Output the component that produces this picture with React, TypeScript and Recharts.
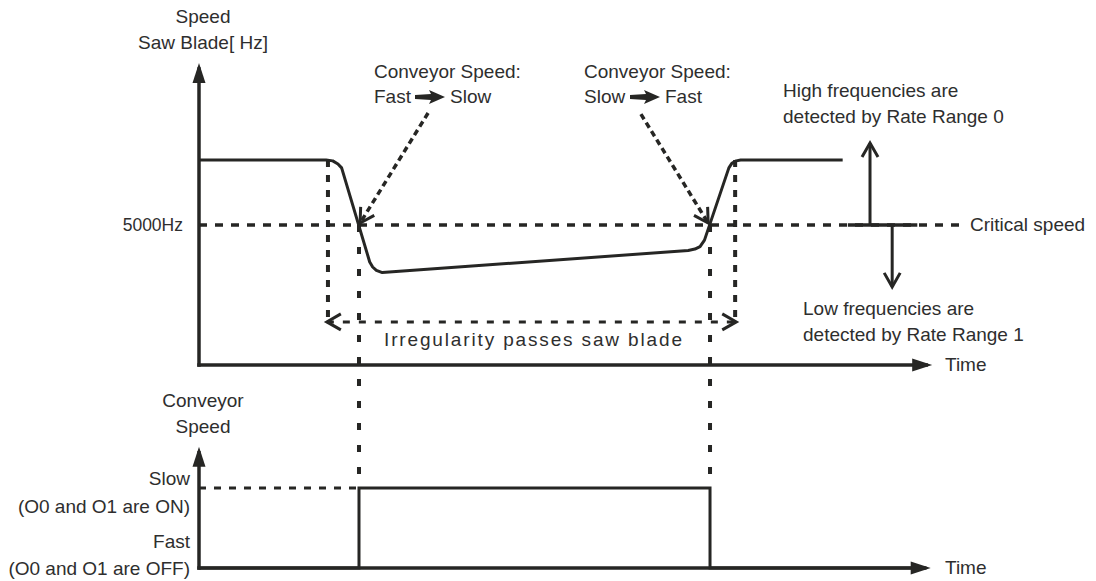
import React from 'react';
import { ComposedChart, Line, XAxis, YAxis } from 'recharts';

const WIDTH = 1096;
const HEIGHT = 581;

// ---- data (time runs 0..100 between the vertical axes and the arrow tips) ----
const sawTime = [0, 17.2, 18.1, 18.8, 19.3, 23.1, 23.5, 24.0, 24.8, 66.2, 67.1, 67.8, 68.4, 71.7, 72.1, 72.7, 73.3, 87.1];
const sawSpeed = [7320, 7320, 7290, 7180, 7040, 3680, 3500, 3380, 3300, 4090, 4140, 4230, 4460, 7040, 7200, 7290, 7320, 7320];

const CRITICAL_HZ = 5000;
const criticalEndTime = 103.9;
const thresholdBarTime = [87.8, 97.2];
const highArrow = { t: 90.8, hz: 7930 };
const lowArrow = { t: 93.8, hz: 2790 };

// conveyor switches Fast -> Slow and back when the saw crosses 5000 Hz
const switchTimes = [21.65, 69.15];
const conveyorTime = [0, 21.65, 69.15, 98.2];
const conveyorLevel = [0, 1, 0, 0]; // 0 = Fast, 1 = Slow

// irregularity passing the saw blade
const irregularTimes = [17.45, 72.55];
const irregularTop = 7320;
const irregularBottom = 1430;
const irregularArrowHz = 1540;
const irregularArrowTimes = [17.3, 72.7];

// callout arrows [fromT, fromHz, toT, toHz]
const callouts = [
  [31.0, 9000, 21.8, 5070],
  [59.8, 8960, 68.9, 5070],
];

const sawAxisTop = 10570;
const timeAxisEnd = 98.4;
const convAxisTop = 1.44;
const convTimeAxisEnd = 98.2;

// ---- layout: where the scales sit on the page ----
const X0_PX = 199;
const PX_PER_T = 7.39;
const SAW_ZERO_PX = 365;
const PX_PER_HZ = 0.028;
const CONV_ZERO_PX = 568;
const PX_PER_LEVEL = 80;

const xDomain = [-X0_PX / PX_PER_T, (WIDTH - X0_PX) / PX_PER_T];
const sawDomain = [-(HEIGHT - SAW_ZERO_PX) / PX_PER_HZ, SAW_ZERO_PX / PX_PER_HZ];
const convDomain = [-(HEIGHT - CONV_ZERO_PX) / PX_PER_LEVEL, CONV_ZERO_PX / PX_PER_LEVEL];

// the switch lines run from the saw panel down into the conveyor panel
const hzToLevel = (hz: number) => (CONV_ZERO_PX - SAW_ZERO_PX + hz * PX_PER_HZ) / PX_PER_LEVEL;

const INK = '#262624';
const TEXT = '#2e2e2e';
const FONT = '"Liberation Sans", Arial, Helvetica, sans-serif';

const zip = (ts: number[], vs: number[]) => ts.map((t, i) => ({ t, v: vs[i] }));
const seg = (t0: number, v0: number, t1: number, v1: number) => [
  { t: t0, v: v0 },
  { t: t1, v: v1 },
];

const sawData = zip(sawTime, sawSpeed);
const conveyorData = zip(conveyorTime, conveyorLevel);

const common = {
  dataKey: 'v',
  dot: false,
  activeDot: false,
  isAnimationActive: false,
  legendType: 'none' as const,
  stroke: INK,
};

const Arrow = ({ x, y }: { x: number; y: number }) => (
  <polygon
    points={`${x},${y - 2} ${x + 16},${y - 3} ${x + 14},${y - 7} ${x + 30},${y} ${x + 14},${y + 7} ${x + 16},${y + 3} ${x},${y + 2}`}
    fill={INK}
  />
);

const T = ({ x, y, a = 'start', size = 19, len, children }: {
  x: number; y: number; a?: string; size?: number; len?: number; children: React.ReactNode;
}) => (
  <text x={x} y={y} textAnchor={a as any} fontFamily={FONT} fontSize={size} fill={TEXT}
    textLength={len} lengthAdjust={len ? 'spacing' : undefined}>
    {children}
  </text>
);

const Annotations = () => (
  <g>
    <T x={203} y={23} a="middle">Speed</T>
    <T x={203} y={49} a="middle">Saw Blade[ Hz]</T>

    <T x={374} y={78}>Conveyor Speed:</T>
    <T x={374} y={103}>Fast</T>
    <Arrow x={415} y={97} />
    <T x={450} y={103}>Slow</T>

    <T x={584} y={78}>Conveyor Speed:</T>
    <T x={584} y={103}>Slow</T>
    <Arrow x={630} y={97} />
    <T x={665} y={103}>Fast</T>

    <T x={783} y={97}>High frequencies are</T>
    <T x={783} y={123}>detected by Rate Range 0</T>
    <T x={183} y={231} a="end" size={17.5}>5000Hz</T>
    <T x={970} y={231}>Critical speed</T>
    <T x={803} y={315}>Low frequencies are</T>
    <T x={803} y={341}>detected by Rate Range 1</T>
    <T x={384} y={346} len={298}>Irregularity passes saw blade</T>
    <T x={945} y={371}>Time</T>

    <T x={203} y={407} a="middle">Conveyor</T>
    <T x={203} y={433} a="middle">Speed</T>
    <T x={190} y={485} a="end">Slow</T>
    <T x={190} y={513} a="end">(O0 and O1 are ON)</T>
    <T x={190} y={548} a="end">Fast</T>
    <T x={190} y={575} a="end">(O0 and O1 are OFF)</T>
    <T x={945} y={574}>Time</T>
  </g>
);

export default function App() {
  return (
    <div style={{ position: 'absolute', left: 0, top: 0, width: WIDTH, height: HEIGHT, background: '#fff' }}>
      <ComposedChart width={WIDTH} height={HEIGHT} margin={{ top: 0, right: 0, bottom: 0, left: 0 }}>
        <defs>
          <marker id="head-filled" viewBox="-16 -8 24 16" refX={0} refY={0} markerWidth={24} markerHeight={16}
            markerUnits="userSpaceOnUse" orient="auto" overflow="visible">
            <path d="M6,0 L-14,-6.5 L-14,6.5 Z" fill={INK} />
          </marker>
          <marker id="head-open" viewBox="-16 -10 22 20" refX={0} refY={0} markerWidth={22} markerHeight={20}
            markerUnits="userSpaceOnUse" orient="auto-start-reverse" overflow="visible">
            <path d="M-14,-8 L0,0 L-14,8" fill="none" stroke={INK} strokeWidth={3} />
          </marker>
        </defs>

        <XAxis dataKey="t" type="number" domain={xDomain} hide />
        <YAxis yAxisId="saw" type="number" domain={sawDomain} hide />
        <YAxis yAxisId="conv" type="number" domain={convDomain} hide />

        {/* dashed guides */}
        <Line {...common} yAxisId="saw" data={seg(0, CRITICAL_HZ, criticalEndTime, CRITICAL_HZ)}
          strokeWidth={3.5} strokeDasharray="8 8" />
        {irregularTimes.map((t) => (
          <Line key={`irr-${t}`} {...common} yAxisId="saw" data={seg(t, irregularTop, t, irregularBottom)}
            strokeWidth={4} strokeDasharray="7 8" />
        ))}
        <Line {...common} yAxisId="saw"
          data={seg(irregularArrowTimes[0], irregularArrowHz, irregularArrowTimes[1], irregularArrowHz)}
          strokeWidth={3} strokeDasharray="7 9" markerStart="url(#head-open)" markerEnd="url(#head-open)" />
        {switchTimes.map((t) => (
          <Line key={`sw-${t}`} {...common} yAxisId="conv" data={seg(t, hzToLevel(CRITICAL_HZ), t, 1)}
            strokeWidth={4} strokeDasharray="7 15" />
        ))}
        <Line {...common} yAxisId="conv" data={seg(0, 1, switchTimes[0], 1)} strokeWidth={3} strokeDasharray="7 8" />
        {callouts.map((c, i) => (
          <Line key={`call-${i}`} {...common} yAxisId="saw" data={seg(c[0], c[1], c[2], c[3])}
            strokeWidth={3.5} strokeDasharray="6 4" markerEnd="url(#head-open)" />
        ))}

        {/* saw blade speed */}
        <Line {...common} yAxisId="saw" data={sawData} type="linear" strokeWidth={3} strokeLinejoin="round" />

        {/* threshold marker */}
        <Line {...common} yAxisId="saw"
          data={seg(thresholdBarTime[0], CRITICAL_HZ, thresholdBarTime[1], CRITICAL_HZ)} strokeWidth={3.5} />
        <Line {...common} yAxisId="saw" data={seg(highArrow.t, CRITICAL_HZ, highArrow.t, highArrow.hz)}
          strokeWidth={3} markerEnd="url(#head-open)" />
        <Line {...common} yAxisId="saw" data={seg(lowArrow.t, CRITICAL_HZ, lowArrow.t, lowArrow.hz)}
          strokeWidth={3} markerEnd="url(#head-open)" />

        {/* conveyor speed */}
        <Line {...common} yAxisId="conv" data={conveyorData} type="stepAfter" strokeWidth={3} />

        {/* axes */}
        <Line {...common} yAxisId="saw" data={seg(0, 0, 0, sawAxisTop)} strokeWidth={3.5}
          strokeLinecap="square" markerEnd="url(#head-filled)" />
        <Line {...common} yAxisId="saw" data={seg(0, 0, timeAxisEnd, 0)} strokeWidth={3.5}
          strokeLinecap="square" markerEnd="url(#head-filled)" />
        <Line {...common} yAxisId="conv" data={seg(0, 0, 0, convAxisTop)} strokeWidth={3.5}
          strokeLinecap="square" markerEnd="url(#head-filled)" />
        <Line {...common} yAxisId="conv" data={seg(0, 0, convTimeAxisEnd, 0)} strokeWidth={3.5}
          strokeLinecap="square" markerEnd="url(#head-filled)" />

        <Annotations />
      </ComposedChart>
    </div>
  );
}
